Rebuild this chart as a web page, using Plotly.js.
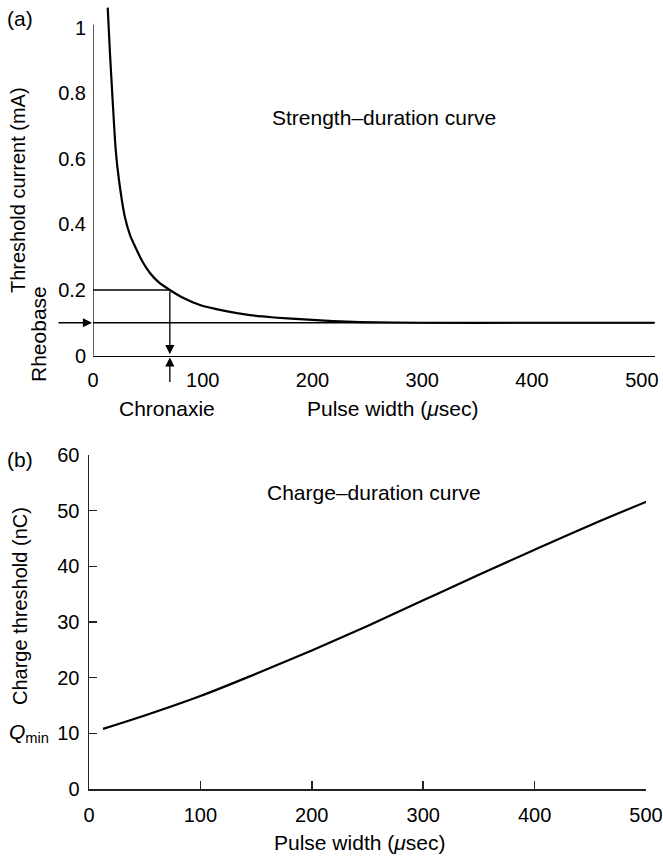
<!DOCTYPE html>
<html>
<head>
<meta charset="utf-8">
<script src="https://cdn.plot.ly/plotly-3.0.1.min.js"></script>
<style>html,body{margin:0;padding:0;background:#fff;}#chart{width:663px;height:857px;}</style>
</head>
<body>
<div id="chart"></div>
<script>
// Panel (a): strength–duration curve
const sdWidth = [13.4, 15.5, 17.9, 20.7, 23.7, 29.1, 34, 39.8, 45, 51.9, 60, 70, 82, 97.4, 120, 143, 165, 188.5, 218.6, 243, 300, 400, 511];
const sdCurrent = [1.062, 0.92, 0.779, 0.627, 0.535, 0.422, 0.365, 0.322, 0.287, 0.252, 0.223, 0.2, 0.176, 0.154, 0.136, 0.123, 0.116, 0.111, 0.105, 0.102, 0.1, 0.1, 0.1];
const rheobase = 0.1;
const chronaxie = 70;
const chronaxieCurrent = 0.2;
const topXTicks = [0, 100, 200, 300, 400, 500];
const topYTicks = [0, 0.2, 0.4, 0.6, 0.8, 1];
const topYTickText = ["0", "0.2", "0.4", "0.6", "0.8", "1"];

// Panel (b): charge–duration curve
const cdWidth = [12.6, 50, 100, 150, 200, 250, 300, 350, 400, 450, 505];
const cdCharge = [10.8, 13.2, 16.7, 20.7, 24.9, 29.3, 33.9, 38.5, 43.0, 47.4, 52.0];
const botXTicks = [0, 100, 200, 300, 400, 500];
const botYTicks = [0, 10, 20, 30, 40, 50, 60];

const FONT = "Liberation Sans, Arial, Helvetica, sans-serif";
const FS = 20;   // tick labels
const FT = 21;   // text labels
const W = 663, H = 857;
const px = v => v / W;
const py = v => 1 - v / H;

const traces = [
  {x: sdWidth, y: sdCurrent, type: 'scatter', mode: 'lines',
   line: {color: '#000', width: 2.2, shape: 'spline', smoothing: 0.6},
   xaxis: 'x', yaxis: 'y', hoverinfo: 'skip', cliponaxis: true},
  {x: cdWidth, y: cdCharge, type: 'scatter', mode: 'lines',
   line: {color: '#000', width: 2.2, shape: 'spline', smoothing: 1},
   xaxis: 'x2', yaxis: 'y2', hoverinfo: 'skip'}
];

const shapes = [
  {type: 'line', xref: 'x', yref: 'y', x0: 0, x1: 0, y0: 0, y1: 1.01, line: {color: '#000', width: 1.3}},
  {type: 'line', xref: 'x', yref: 'y', x0: 0, x1: 512, y0: rheobase, y1: rheobase, line: {color: '#000', width: 1.3}},
  {type: 'line', xref: 'x', yref: 'y', x0: 0, x1: chronaxie, y0: chronaxieCurrent, y1: chronaxieCurrent, line: {color: '#000', width: 1.3}}
];

const ann = (text, x, y, extra) => Object.assign({
  text: text, xref: 'paper', yref: 'paper', x: px(x), y: py(y),
  showarrow: false, font: {family: FONT, size: FT, color: '#000'},
  xanchor: 'center', yanchor: 'middle'
}, extra || {});

const annotations = [
  ann('(a)', 20, 18),
  ann('(b)', 20, 459),
  ann('Threshold current (mA)', 18, 190, {textangle: -90, font: {family: FONT, size: 20, color: '#000'}}),
  ann('Rheobase', 38, 334, {textangle: -90}),
  ann('Chronaxie', 167, 408),
  ann('Pulse width (<i>μ</i>sec)', 392, 408),
  ann('Strength–duration curve', 384, 117),
  ann('Charge–duration curve', 374, 492),
  ann('Charge threshold (nC)', 20, 606, {textangle: -90, font: {family: FONT, size: 20, color: '#000'}}),
  ann('<i>Q</i><sub>min</sub>', 29, 733),
  ann('Pulse width (<i>μ</i>sec)', 359, 842),
  {xref: 'x', yref: 'y', x: chronaxie, y: 0.004, axref: 'x', ayref: 'y', ax: chronaxie, ay: chronaxieCurrent,
   text: '', showarrow: true, arrowhead: 2, arrowsize: 1.4, arrowwidth: 1.3, arrowcolor: '#000', standoff: 0},
  {xref: 'x', yref: 'paper', x: chronaxie, y: py(357.5), ax: 0, ay: 26,
   text: '', showarrow: true, arrowhead: 2, arrowsize: 1.4, arrowwidth: 1.3, arrowcolor: '#000', standoff: 0},
  {xref: 'x', yref: 'y', x: 0, y: rheobase, ax: -36, ay: 0,
   text: '', showarrow: true, arrowhead: 2, arrowsize: 1.4, arrowwidth: 1.3, arrowcolor: '#000', standoff: 1}
];

const layout = {
  width: W, height: H,
  margin: {l: 0, r: 0, t: 0, b: 0},
  paper_bgcolor: '#fff', plot_bgcolor: '#fff',
  showlegend: false,
  font: {family: FONT, size: FS, color: '#000'},
  xaxis: {domain: [px(93), px(655)], range: [0, 512], anchor: 'y',
    showgrid: false, zeroline: false, showline: true, linecolor: '#000', linewidth: 1.3,
    ticks: '', tickvals: topXTicks, ticktext: topXTicks.map(String), ticklabelstandoff: 6,
    tickfont: {family: FONT, size: FS, color: '#000'}, automargin: false, fixedrange: true},
  yaxis: {domain: [py(355.5), py(5)], range: [0, 1.07], anchor: 'x',
    showgrid: false, zeroline: false, showline: false,
    ticks: '', tickvals: topYTicks, ticktext: topYTickText, ticklabelstandoff: 6,
    tickfont: {family: FONT, size: FS, color: '#000'}, automargin: false, fixedrange: true},
  xaxis2: {domain: [px(89), px(646)], range: [0, 500], anchor: 'y2',
    showgrid: false, zeroline: false, showline: true, linecolor: '#222', linewidth: 1.5,
    ticks: 'inside', ticklen: 8, tickwidth: 1.5, tickcolor: '#222',
    tickvals: botXTicks, ticktext: botXTicks.map(String), ticklabelstandoff: 7,
    tickfont: {family: FONT, size: FS, color: '#000'}, automargin: false, fixedrange: true},
  yaxis2: {domain: [py(789), py(455)], range: [0, 60], anchor: 'x2',
    showgrid: false, zeroline: false, showline: true, linecolor: '#222', linewidth: 1.5,
    ticks: 'inside', ticklen: 8, tickwidth: 1.5, tickcolor: '#222',
    tickvals: botYTicks, ticktext: botYTicks.map(String), ticklabelstandoff: 4,
    tickfont: {family: FONT, size: FS, color: '#000'}, automargin: false, fixedrange: true},
  shapes: shapes,
  annotations: annotations
};

Plotly.newPlot('chart', traces, layout, {displayModeBar: false, staticPlot: true});
</script>
</body>
</html>
